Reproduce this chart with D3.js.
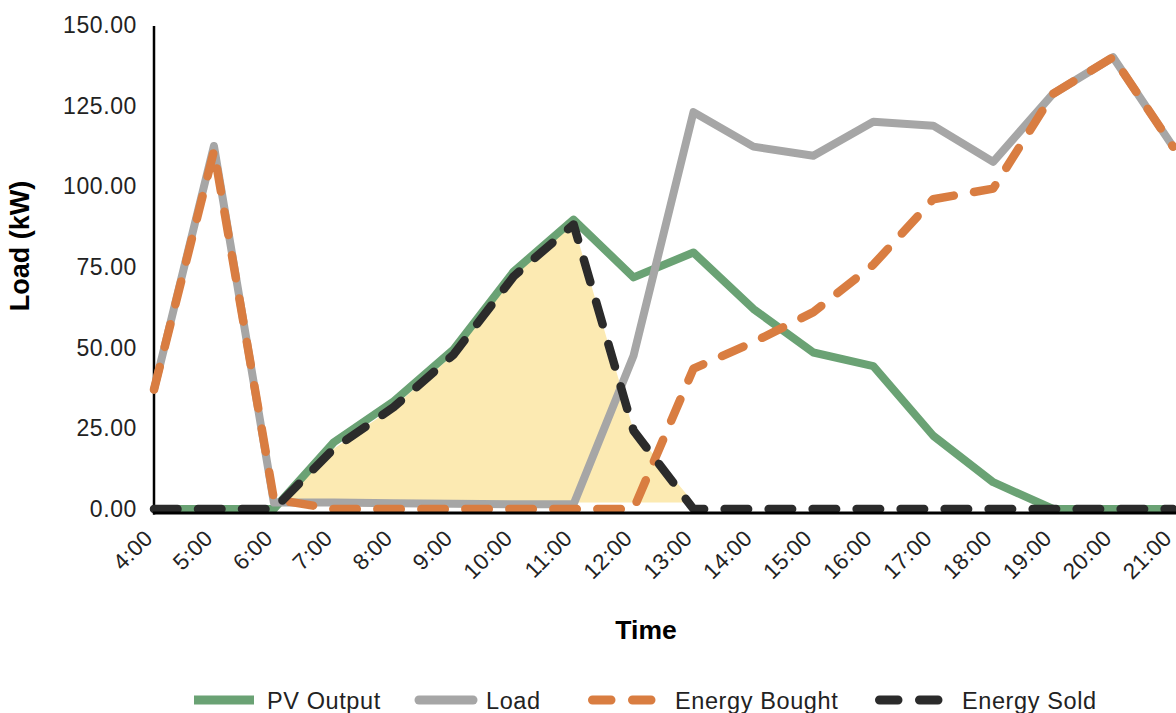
<!DOCTYPE html>
<html>
<head>
<meta charset="utf-8">
<script src="https://cdn.jsdelivr.net/npm/d3@7"></script>
<style>
  html, body { margin: 0; padding: 0; background: #ffffff; }
  svg { display: block; }
  text { font-family: "Liberation Sans", Arial, Helvetica, sans-serif; }
</style>
</head>
<body>
<svg id="chart" width="1176" height="713"></svg>
<script>
// ---- data ----
const times = ["4:00","5:00","6:00","7:00","8:00","9:00","10:00","11:00","12:00",
               "13:00","14:00","15:00","16:00","17:00","18:00","19:00","20:00","21:00"];
const pvOutput     = [0, 0, 0, 20.7, 33.4, 49.5, 73.6, 89.7, 71.8, 79.5, 62.0, 48.5, 44.3, 22.7, 8.3, 0, 0, 0];
const load         = [37, 112.5, 2, 2, 1.8, 1.6, 1.5, 1.5, 47.5, 123.0, 112.3, 109.5, 120.0, 118.8, 107.6, 128.7, 140.0, 112.3];
const energyBought = [37, 111, 3, 0, 0, 0, 0, 0, 0, 43.5, 51.7, 61.0, 75.7, 96.0, 99.3, 128.7, 140.0, 112.3];
const energySold   = [0, 0, 0, 18.7, 31.6, 47.9, 72.1, 88.2, 24.3, 0, 0, 0, 0, 0, 0, 0, 0, 0];
const surplusBase  = 2;   // lower edge value of the shaded surplus area
const yTicks = [0, 25, 50, 75, 100, 125, 150];
const seriesNames = ["PV Output", "Load", "Energy Bought", "Energy Sold"];

// ---- layout ----
const svg = d3.select("#chart");
const plotLeft = 154, plotRight = 1173, plotTop = 25, zeroY = 509;

const x = d3.scalePoint().domain(times).range([plotLeft, plotRight]);
const y = d3.scaleLinear().domain([0, 150]).range([zeroY, plotTop]);

const colors = {
  "PV Output": "#6aa274",
  "Load": "#a6a6a6",
  "Energy Bought": "#d97d41",
  "Energy Sold": "#2b2b2b"
};

// shaded surplus area
svg.append("path")
  .datum(energySold.map((v, i) => (i >= 2 && i <= 9) ? v : null))
  .attr("d", d3.area().defined(d => d !== null)
      .x((d, i) => x(times[i]))
      .y0(() => y(surplusBase))
      .y1(d => y(Math.max(d, surplusBase))))
  .attr("fill", "#fceab2");

const line = d3.line().x((d, i) => x(times[i])).y(d => y(d));

function drawSeries(values, name, dashed) {
  const p = svg.append("path")
    .datum(values)
    .attr("d", line)
    .attr("fill", "none")
    .attr("stroke", colors[name])
    .attr("stroke-width", dashed ? 8.5 : 8)
    .attr("stroke-linejoin", "round")
    .attr("stroke-linecap", dashed ? "round" : (name === "Load" ? "round" : "butt"));
  if (dashed) p.attr("stroke-dasharray", "23.5 20.5");
  return p;
}

// y axis
const yAxis = d3.axisLeft(y).tickValues(yTicks).tickFormat(d3.format(".2f")).tickSize(0).tickPadding(17);
const gy = svg.append("g").attr("transform", `translate(${plotLeft},0)`).call(yAxis);
gy.select(".domain").remove();
gy.selectAll("text")
  .attr("font-size", 23)
  .attr("letter-spacing", "0.6px")
  .attr("fill", "#222");

svg.append("line")
  .attr("x1", plotLeft).attr("x2", plotLeft)
  .attr("y1", y(150) + 1).attr("y2", zeroY + 5.5)
  .attr("stroke", "#000").attr("stroke-width", 2.5);

// x axis
const xAxis = d3.axisBottom(x).tickSize(0).tickPadding(0);
const gx = svg.append("g").attr("transform", `translate(0,${zeroY + 4})`).call(xAxis);
gx.select(".domain").remove();
gx.selectAll(".tick text")
  .attr("font-size", 22.5)
  .attr("letter-spacing", "0.3px")
  .attr("fill", "#222")
  .attr("text-anchor", "end")
  .attr("dy", "0.35em")
  .attr("y", 0)
  .attr("transform", "translate(-6,21) rotate(-45)");

// series lines (drawn in series order)
drawSeries(pvOutput, "PV Output", false);
drawSeries(load, "Load", false);
drawSeries(energyBought, "Energy Bought", true);
drawSeries(energySold, "Energy Sold", true);

// x axis line on top
svg.append("line")
  .attr("x1", plotLeft - 1).attr("x2", 1176)
  .attr("y1", zeroY + 4).attr("y2", zeroY + 4)
  .attr("stroke", "#000").attr("stroke-width", 3);

// axis titles
svg.append("text")
  .attr("x", 646).attr("y", 639)
  .attr("text-anchor", "middle")
  .attr("font-size", 26.5).attr("font-weight", "bold").attr("fill", "#000")
  .text("Time");

svg.append("text")
  .attr("transform", "translate(29,246) rotate(-90)")
  .attr("text-anchor", "middle")
  .attr("font-size", 27).attr("font-weight", "bold").attr("fill", "#000")
  .text("Load (kW)");

// legend
const legendY = 700;
const legendItems = [
  { name: "PV Output",     x1: 194, x2: 254, tx: 267, dashed: false, cap: "butt" },
  { name: "Load",          x1: 419, x2: 473, tx: 486, dashed: false, cap: "round" },
  { name: "Energy Bought", x1: 592.5, x2: 652.5, tx: 675, dashed: true, cap: "round" },
  { name: "Energy Sold",   x1: 879.5, x2: 939.5, tx: 962, dashed: true, cap: "round" }
];
const lg = svg.append("g");
legendItems.forEach(it => {
  const ln = lg.append("line")
    .attr("x1", it.x1).attr("x2", it.x2)
    .attr("y1", legendY).attr("y2", legendY)
    .attr("stroke", colors[it.name])
    .attr("stroke-width", 9)
    .attr("stroke-linecap", it.cap);
  if (it.dashed) ln.attr("stroke-dasharray", "18.5 21.5");
  lg.append("text")
    .attr("x", it.tx).attr("y", legendY + 8.5)
    .attr("font-size", 23.5)
    .attr("letter-spacing", "0.6px")
    .attr("fill", "#222")
    .text(it.name);
});
</script>
</body>
</html>
